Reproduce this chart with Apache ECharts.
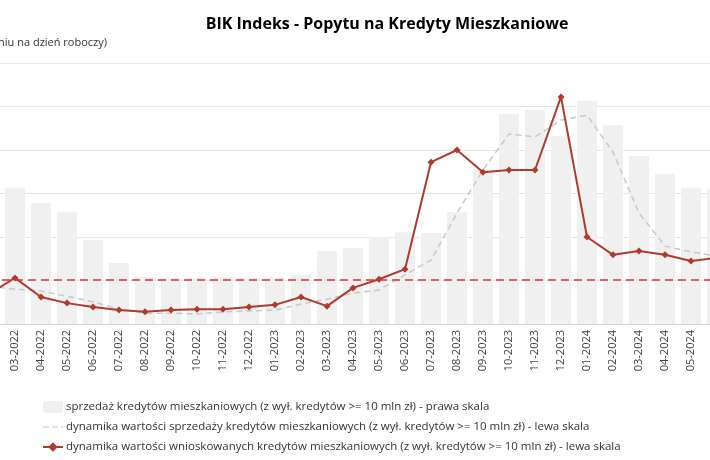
<!DOCTYPE html>
<html><head><meta charset="utf-8">
<script src="https://cdn.jsdelivr.net/npm/echarts@6/dist/echarts.min.js"></script>
<style>html,body{margin:0;padding:0;overflow:hidden;width:710px;height:460px;background:#fff}
#c{position:absolute;left:-24px;top:0;width:754px;height:460px}</style>
</head><body><div id="c"></div>
<script>
const categories = ['02-2022','03-2022','04-2022','05-2022','06-2022','07-2022','08-2022','09-2022','10-2022','11-2022','12-2022','01-2023','02-2023','03-2023','04-2023','05-2023','06-2023','07-2023','08-2023','09-2023','10-2023','11-2023','12-2023','01-2024','02-2024','03-2024','04-2024','05-2024','06-2024'];
const salesBars = [31,31.3,27.8,25.7,19.3,14.0,10.8,10.6,10.6,10.8,10.6,10.6,11.3,16.8,17.5,20.0,21.1,20.9,25.7,35.4,48.3,49.2,43.2,51.3,45.7,38.6,34.5,31.3,31.0];
const salesDyn = [8.7,8.0,7.6,6.4,5.1,3.4,2.5,2.5,2.3,2.8,3.0,3.2,4.6,5.7,7.1,7.8,11.3,14.7,25.5,35.4,43.7,43.0,46.9,48.0,39.5,25.5,17.9,16.6,15.6];
const appDyn = [6.9,10.6,6.2,4.8,3.9,3.2,2.8,3.2,3.4,3.4,3.9,4.4,6.2,4.1,8.3,10.3,12.6,37.2,40.0,34.9,35.4,35.4,52.2,20.0,15.9,16.8,15.9,14.5,15.2];
const refLevel = 10.1;
const names = ['sprzedaż kredytów mieszkaniowych (z wył. kredytów >= 10 mln zł) - prawa skala',
 'dynamika wartości sprzedaży kredytów mieszkaniowych (z wył. kredytów >= 10 mln zł) - lewa skala',
 'dynamika wartości wnioskowanych kredytów mieszkaniowych (z wył. kredytów >= 10 mln zł) - lewa skala'];
const ch = echarts.init(document.getElementById('c'));
const font = '"Open Sans", sans-serif';
ch.setOption({
  animation:false,
  textStyle:{fontFamily:font},
  title:{text:'BIK Indeks - Popytu na Kredyty Mieszkaniowe',left:406,top:11,textAlign:'center',
    textStyle:{fontSize:16,fontWeight:'bold',color:'#000',fontFamily:font}},
  graphic:[{type:'text',right:754-131,top:37,style:{text:'(średnia w przeliczeniu na dzień roboczy)',fill:'#333',font:'11px '+font,textAlign:'right'}}],
  grid:{left:0,right:0,top:63,bottom:136},
  legend:{orient:'vertical',left:66,top:401,height:60,padding:0,itemGap:8,itemWidth:20,itemHeight:12,
    textStyle:{fontSize:11.5,color:'#333',padding:[0,0,0,-2]},
    data:[{name:names[0]},{name:names[1],icon:'path://M0,5L6,5L6,6L0,6ZM9,5L15,5L15,6L9,6ZM18,5L20,5L20,6L18,6Z'},{name:names[2]}]},
  xAxis:{type:'category',data:categories,axisTick:{show:false},
    axisLine:{lineStyle:{color:'#d9d9d9'}},
    axisLabel:{rotate:90,fontSize:11,color:'#404040',margin:6}},
  yAxis:[{type:'value',min:0,max:60,interval:10,axisLabel:{show:false},
    splitLine:{lineStyle:{color:'#e6e6e6'}}},
    {type:'value',min:0,max:60,interval:10,axisLabel:{show:false},splitLine:{show:false}}],
  series:[
    {name:names[0],type:'bar',yAxisIndex:1,data:salesBars,barWidth:20,itemStyle:{color:'#f0f0f0'}},
    {name:names[1],type:'line',data:salesDyn,symbol:'none',lineStyle:{color:'#c8c8c8',type:[6,4],width:1.5},itemStyle:{color:'#c8c8c8'}},
    {name:names[2],type:'line',data:appDyn,symbol:'diamond',symbolSize:7,lineStyle:{color:'#b03a2e',width:2},itemStyle:{color:'#b03a2e'},
     markLine:{silent:true,symbol:'none',label:{show:false},lineStyle:{color:'#e0303a',type:[8,5],width:1.5},data:[{yAxis:refLevel}]}}
  ]
});
</script></body></html>
